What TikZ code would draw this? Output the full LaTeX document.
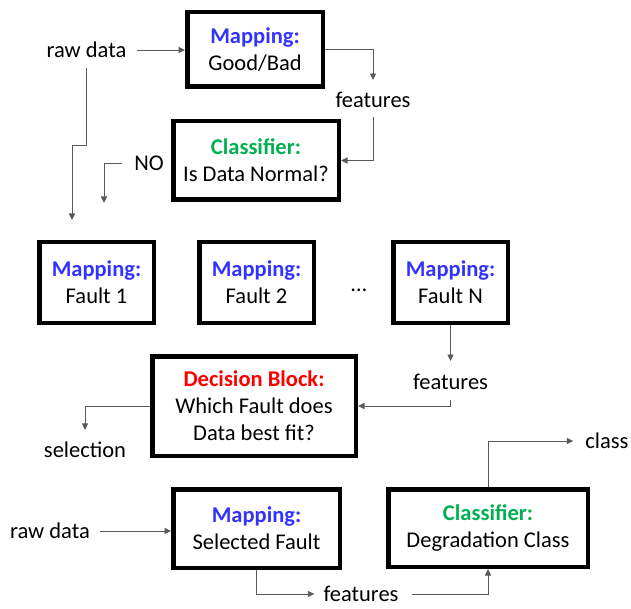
\documentclass[tikz,border=0pt]{standalone}
\usepackage{fontspec}
\setmainfont{Carlito}
\usetikzlibrary{arrows.meta}

\definecolor{mapblue}{RGB}{51,51,255}
\definecolor{clsgreen}{RGB}{0,176,80}
\definecolor{decred}{RGB}{255,0,0}

\newcommand{\mapping}{\textcolor{mapblue}{\textbf{Mapping:}}}
\newcommand{\classif}{\textcolor{clsgreen}{\textbf{Classifier:}}}

\begin{document}
\begin{tikzpicture}[x=1pt,y=-1pt,
    block/.style={draw,line width=4.5pt,inner sep=0pt,align=center},
    lbl/.style={inner sep=0pt},
    conn/.style={draw=black!65,line width=0.9pt,-{Triangle[length=6.5pt,width=6pt]}},
    every node/.style={font=\fontsize{22.5}{27}\selectfont}]

    \useasboundingbox (0,0) rectangle (631,609);

    % blocks
    \node[block,minimum width=135.5pt,minimum height=74.5pt] (gb) at (255,49.5) {\mapping\\Good/Bad};
    \node[block,minimum width=165.5pt,minimum height=78.5pt] (normal) at (256,160.5) {\classif\\Is Data Normal?};
    \node[block,minimum width=114.5pt,minimum height=80.5pt] (f1) at (96.5,282.5) {\mapping\\Fault 1};
    \node[block,minimum width=114.5pt,minimum height=80.5pt] (f2) at (256.5,282.5) {\mapping\\Fault 2};
    \node[block,minimum width=114.5pt,minimum height=80.5pt] (fN) at (450.5,282.5) {\mapping\\Fault N};
    \node[block,minimum width=203.5pt,minimum height=99.5pt] (decision) at (254,406)
        {\textcolor{decred}{\textbf{Decision Block:}}\\Which Fault does\\Data best fit?};
    \node[block,minimum width=166.5pt,minimum height=78.5pt] (mapsel) at (256.5,528.5) {\mapping\\Selected Fault};
    \node[block,minimum width=199.5pt,minimum height=77.5pt] (degr) at (488,528) {\classif\\Degradation Class};

    % labels
    \node[lbl] (raw1) at (86.5,50) {raw data};
    \node[lbl] (feat1) at (373,100) {features};
    \node[lbl] (no) at (149,163.5) {NO};
    \node[lbl] (dots) at (359,290) {…};
    \node[lbl] (feat2) at (450.5,381.5) {features};
    \node[lbl] (sellab) at (85,450) {selection};
    \node[lbl] (class) at (607,441) {class};
    \node[lbl] (raw2) at (50,531) {raw data};
    \node[lbl] (feat3) at (361,594) {features};

    \coordinate (rawend) at (72,220);
    \coordinate (noend) at (104,203);

    % connectors
    \draw[conn,shorten <=10pt] (raw1.east) -- (raw1.east -| gb.west);
    \draw[conn,shorten >=12pt] (gb.east) -| (feat1.north);
    \draw[conn,shorten <=9pt] (feat1.south) |- (normal.east);
    \draw[conn,shorten <=10pt] (raw1.south) |- ([yshift=75pt]rawend) -- (rawend);
    \draw[conn,shorten <=12pt] (no.west) -| (noend);
    \draw[conn,shorten >=12.5pt] (fN.south) -- (feat2.north);
    \draw[conn,shorten <=10.5pt] (feat2.south) |- (decision.east);
    \draw[conn,shorten >=12pt] (decision.west) -| (sellab.north);
    \draw[conn,shorten <=10pt] (raw2.east) -- (raw2.east -| mapsel.west);
    \draw[conn,shorten >=9pt] (mapsel.south) |- (feat3.west);
    \draw[conn,shorten <=13pt] (feat3.east) -| (degr.south);
    \draw[conn,shorten >=12pt] (degr.north) |- (class.west);

\end{tikzpicture}
\end{document}
